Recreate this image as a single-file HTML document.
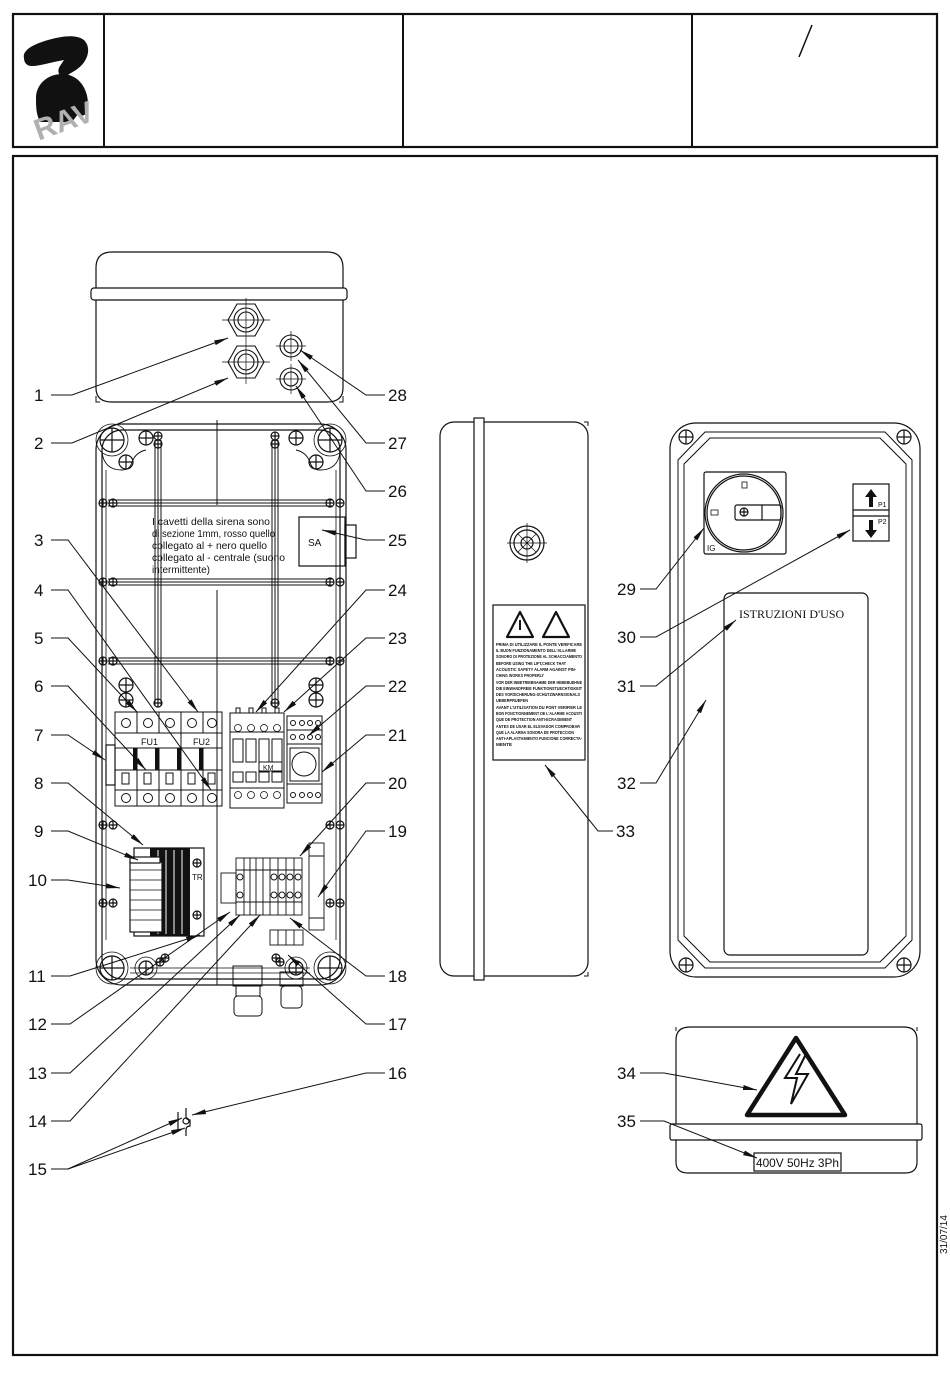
<!DOCTYPE html>
<html><head><meta charset="utf-8"><style>
html,body{margin:0;padding:0;background:#fff}
svg{display:block}
text{font-family:"Liberation Sans",sans-serif;fill:#111}
.s{font-family:"Liberation Sans Narrow","Liberation Sans",sans-serif}
</style></head><body>
<svg width="950" height="1379" viewBox="0 0 950 1379" xmlns="http://www.w3.org/2000/svg" fill="none" stroke="#111" stroke-width="1.2">
<defs>
<marker id="a" viewBox="0 0 14 6" refX="14" refY="3" markerWidth="14" markerHeight="6" markerUnits="userSpaceOnUse" orient="auto"><path d="M0,0.5 L14,3 L0,5.5 Z" fill="#111" stroke="none"/></marker>
<g id="sc"><circle r="7"/><path d="M-7,0H7M0,-7V7"/></g>
<g id="sm"><circle r="4"/><path d="M-4,0H4M0,-4V4"/></g>
<g id="bs"><circle r="12"/><path d="M-12,0H12M0,-12V12"/></g>
</defs>

<!-- header -->
<rect x="13" y="14" width="924" height="133" stroke-width="2.2"/>
<path d="M104,14V147M403,14V147M692,14V147" stroke-width="2"/>
<path d="M812,25L799,57" stroke-width="1.5"/>
<!-- logo -->
<path d="M24,58 C22,50 34,44 48,40 C62,36 76,34 84,40 C92,48 88,62 76,70 L66,76 C60,78 56,72 60,66 L64,60 C52,62 40,66 32,66 C26,66 24,62 24,58Z" fill="#111" stroke="none"/>
<path d="M36,98 C36,84 48,74 62,74 C78,74 88,88 88,104 C88,114 84,118 78,114 L72,122 L40,122 C36,114 36,106 36,98Z" fill="#111" stroke="none"/>
<text x="32" y="132" transform="rotate(-20 60 118)" style="font-size:30px;font-weight:bold;fill:#b0b0b0" stroke="none">RAV</text>

<!-- main frame -->
<rect x="13" y="156" width="924" height="1199" stroke-width="2.2"/>
<text x="947" y="1254" transform="rotate(-90 947 1254)" style="font-size:10px" stroke="none">31/07/14</text>

<!-- top cover -->
<path d="M96,288 V268 Q96,252 112,252 H327 Q343,252 343,268 V288"/>
<rect x="91" y="288" width="256" height="12" rx="3"/>
<path d="M96,300 V388 Q96,402 112,402 H327 Q343,402 343,388 V300"/>
<path d="M96,396V402H100M343,396V402H339" stroke-width="1"/>
<g stroke-width="1.1">
<polygon points="228,320 237,304 255,304 264,320 255,336 237,336"/><circle cx="246" cy="320" r="12"/><circle cx="246" cy="320" r="8"/>
<polygon points="228,362 237,346 255,346 264,362 255,378 237,378"/><circle cx="246" cy="362" r="12"/><circle cx="246" cy="362" r="8"/>
<path d="M222,320H270M246,298V342M222,362H270M246,340V384" stroke-width="0.7"/>
<circle cx="291" cy="346" r="11"/><circle cx="291" cy="346" r="7"/>
<circle cx="291" cy="379" r="11"/><circle cx="291" cy="379" r="7"/>
<path d="M276,346H306M291,331V361M276,379H306M291,364V394" stroke-width="0.7"/>
</g>

<!-- main box -->
<rect x="96" y="424" width="250" height="561" rx="26"/>
<rect x="102" y="430" width="238" height="549" rx="20"/>
<path d="M102,452 Q104,470 122,470 Q130,470 132,462 Q136,452 146,450 M340,452 Q338,470 320,470 Q312,470 310,462 Q306,452 296,450" stroke-width="0.9"/>
<path d="M106,470V940M336,470V940" stroke-width="0.8"/>
<use href="#bs" x="112" y="440"/><use href="#bs" x="330" y="440"/><use href="#bs" x="112" y="968"/><use href="#bs" x="330" y="968"/>
<circle cx="112" cy="440" r="16" stroke-width="0.8"/><circle cx="330" cy="440" r="16" stroke-width="0.8"/><circle cx="112" cy="968" r="16" stroke-width="0.8"/><circle cx="330" cy="968" r="16" stroke-width="0.8"/>
<use href="#sc" x="146" y="438"/><use href="#sc" x="296" y="438"/><use href="#sc" x="126" y="462"/><use href="#sc" x="316" y="462"/>
<use href="#sc" x="126" y="685"/><use href="#sc" x="316" y="685"/><use href="#sc" x="146" y="968"/><use href="#sc" x="296" y="968"/>
<circle cx="146" cy="968" r="11" stroke-width="0.8"/><circle cx="296" cy="968" r="11" stroke-width="0.8"/>
<use href="#sc" x="126" y="700"/><use href="#sc" x="316" y="700"/>
<g stroke-width="1">
<path d="M108,500H332M108,503H332M108,506H332"/>
<path d="M108,579H332M108,582H332M108,585H332"/>
<path d="M108,658H332M108,661H332M108,664H332"/>
<path d="M155,440V705M158,440V705M161,440V705"/>
<path d="M272,440V705M275,440V705M278,440V705"/>
<path d="M217,420V505M217,590V985" stroke-width="1"/>
</g>
<use href="#sm" x="103" y="503"/><use href="#sm" x="113" y="503"/><use href="#sm" x="330" y="503"/><use href="#sm" x="340" y="503"/>
<use href="#sm" x="103" y="582"/><use href="#sm" x="113" y="582"/><use href="#sm" x="330" y="582"/><use href="#sm" x="340" y="582"/>
<use href="#sm" x="103" y="661"/><use href="#sm" x="113" y="661"/><use href="#sm" x="330" y="661"/><use href="#sm" x="340" y="661"/>
<use href="#sm" x="158" y="436"/><use href="#sm" x="158" y="444"/><use href="#sm" x="275" y="436"/><use href="#sm" x="275" y="444"/>
<use href="#sm" x="158" y="703"/><use href="#sm" x="275" y="703"/>
<use href="#sm" x="103" y="825"/><use href="#sm" x="113" y="825"/><use href="#sm" x="330" y="825"/><use href="#sm" x="340" y="825"/>
<use href="#sm" x="103" y="903"/><use href="#sm" x="113" y="903"/><use href="#sm" x="330" y="903"/><use href="#sm" x="340" y="903"/>
<use href="#sm" x="160" y="962"/><use href="#sm" x="280" y="962"/>
<path d="M130,968H310M130,973H310" stroke-width="0.8"/>
<g stroke="none" style="font-size:10.5px" class="s">
<text x="152" y="525" textLength="118" lengthAdjust="spacingAndGlyphs">I cavetti della sirena sono</text>
<text x="152" y="537" textLength="123" lengthAdjust="spacingAndGlyphs">di sezione 1mm, rosso quello</text>
<text x="152" y="549" textLength="115" lengthAdjust="spacingAndGlyphs">collegato al + nero quello</text>
<text x="152" y="561" textLength="133" lengthAdjust="spacingAndGlyphs">collegato al - centrale (suono</text>
<text x="152" y="573" textLength="58" lengthAdjust="spacingAndGlyphs">intermittente)</text>
</g>
<rect x="299" y="517" width="46" height="49"/><rect x="345" y="525" width="11" height="33"/>
<text x="308" y="546" stroke="none" style="font-size:10px">SA</text>

<!-- fuses -->
<g stroke-width="1">
<rect x="115" y="712" width="107" height="94"/>
<path d="M137,712V733M159,712V733M181,712V733M203,712V733M115,733H222M115,748H222M115,790H222M181,733V748"/>
<path d="M137,748V806M159,748V806M181,748V806M203,748V806"/>
<circle cx="126" cy="723" r="4.5"/><circle cx="148" cy="723" r="4.5"/><circle cx="170" cy="723" r="4.5"/><circle cx="192" cy="723" r="4.5"/><circle cx="212" cy="723" r="4.5"/>
<circle cx="126" cy="798" r="4.5"/><circle cx="148" cy="798" r="4.5"/><circle cx="170" cy="798" r="4.5"/><circle cx="192" cy="798" r="4.5"/><circle cx="212" cy="798" r="4.5"/>
<rect x="122" y="773" width="7" height="11"/><rect x="144" y="773" width="7" height="11"/><rect x="166" y="773" width="7" height="11"/><rect x="188" y="773" width="7" height="11"/><rect x="208" y="773" width="7" height="11"/>
<path d="M115,770H222"/>
</g>
<rect x="133" y="748" width="4" height="22" fill="#111" stroke="none"/><rect x="155" y="748" width="4" height="22" fill="#111" stroke="none"/><rect x="199" y="748" width="4" height="22" fill="#111" stroke="none"/><rect x="177" y="748" width="4" height="22" fill="#111" stroke="none"/>
<text x="141" y="745" stroke="none" style="font-size:9px">FU1</text><text x="193" y="745" stroke="none" style="font-size:9px">FU2</text>
<rect x="106" y="745" width="9" height="40"/>

<!-- contactor -->
<g stroke-width="1">
<rect x="230" y="713" width="54" height="95"/>
<path d="M236,713V708H240V713M249,713V708H253V713M262,713V708H266V713M275,713V708H279V713"/>
<path d="M230,732H284M230,788H284"/>
<rect x="233" y="739" width="10" height="23"/><rect x="246" y="739" width="10" height="23"/><rect x="259" y="739" width="10" height="23"/><rect x="272" y="739" width="10" height="23"/>
<rect x="259" y="762" width="23" height="9"/>
<rect x="233" y="772" width="10" height="10"/><rect x="246" y="772" width="10" height="10"/><rect x="259" y="772" width="10" height="10"/><rect x="272" y="772" width="10" height="10"/>
<g stroke-width="0.8"><circle cx="238" cy="728" r="3.5"/><circle cx="251" cy="728" r="3.5"/><circle cx="264" cy="728" r="3.5"/><circle cx="277" cy="728" r="3.5"/>
<circle cx="238" cy="795" r="3.5"/><circle cx="251" cy="795" r="3.5"/><circle cx="264" cy="795" r="3.5"/><circle cx="277" cy="795" r="3.5"/></g>
</g>
<text x="263" y="770" stroke="none" style="font-size:7px">KM</text>
<g stroke-width="1">
<rect x="287" y="716" width="35" height="87"/>
<path d="M287,730H322M287,744H322M287,784H322"/>
<rect x="290" y="748" width="29" height="33"/><circle cx="304" cy="764" r="12"/>
<circle cx="293" cy="723" r="2.5"/><circle cx="302" cy="723" r="2.5"/><circle cx="310" cy="723" r="2.5"/><circle cx="318" cy="723" r="2.5"/>
<circle cx="293" cy="737" r="2.5"/><circle cx="302" cy="737" r="2.5"/><circle cx="310" cy="737" r="2.5"/><circle cx="318" cy="737" r="2.5"/>
<circle cx="293" cy="795" r="2.5"/><circle cx="302" cy="795" r="2.5"/><circle cx="310" cy="795" r="2.5"/><circle cx="318" cy="795" r="2.5"/>
</g>

<!-- transformer -->
<rect x="134" y="848" width="70" height="88"/>
<rect x="150" y="848" width="40" height="88" fill="#111" stroke="none"/>
<path d="M158,850V934M166,850V934M174,850V934M182,850V934" stroke="#fff" stroke-width="1"/>
<rect x="130" y="862" width="32" height="70" fill="#fff"/>
<path d="M130,870H162M130,880H162M130,890H162M130,900H162M130,910H162M130,920H162" stroke-width="0.8"/>
<rect x="130" y="857" width="30" height="6" fill="#fff"/>
<text x="192" y="880" stroke="none" style="font-size:8px">TR</text>
<use href="#sm" x="197" y="863"/><use href="#sm" x="197" y="915"/>
<g stroke-width="0.9">
<rect x="221" y="873" width="15" height="30"/>
<rect x="236" y="858" width="66" height="57"/>
<path d="M244,858V915M250,858V915M256,858V915M263,858V915M270,858V915M278,858V915M286,858V915M294,858V915M236,870H302M236,902H302"/>
<circle cx="240" cy="877" r="3"/><circle cx="274" cy="877" r="3"/><circle cx="282" cy="877" r="3"/><circle cx="290" cy="877" r="3"/><circle cx="298" cy="877" r="3"/>
<circle cx="240" cy="895" r="3"/><circle cx="274" cy="895" r="3"/><circle cx="282" cy="895" r="3"/><circle cx="290" cy="895" r="3"/><circle cx="298" cy="895" r="3"/>
<rect x="309" y="843" width="15" height="87"/><path d="M309,856H324M309,918H324"/>
<rect x="270" y="930" width="33" height="15"/><path d="M278,930V945M286,930V945M294,930V945"/>
</g>
<g stroke-width="1">
<rect x="233" y="966" width="29" height="20"/><rect x="236" y="986" width="24" height="10"/><rect x="234" y="996" width="28" height="20" rx="4"/>
<rect x="280" y="972" width="23" height="14"/><rect x="281" y="986" width="21" height="22" rx="4"/>
</g>
<use href="#sm" x="165" y="958"/><use href="#sm" x="276" y="958"/>

<path d="M178,1112V1130M186,1108V1116Q186,1120 190,1120V1126Q186,1126 186,1130V1136" stroke-width="1.2"/>
<circle cx="186" cy="1121" r="3"/>

<!-- side view -->
<rect x="440" y="422" width="148" height="554" rx="14"/>
<rect x="474" y="418" width="10" height="562" fill="#fff"/>
<path d="M584,422H588V426M584,976H588V972" stroke-width="1"/>
<circle cx="527" cy="543" r="17"/><circle cx="527" cy="543" r="13"/><circle cx="527" cy="543" r="6"/>
<path d="M507,543H547M527,523V563M518,534L536,552M536,534L518,552" stroke-width="0.7"/>
<rect x="493" y="605" width="92" height="155"/>
<path d="M520,612L507,637H533Z M556,612L543,637H569Z" stroke-width="2.2" stroke-linejoin="round"/>
<path d="M520,620V630" stroke-width="2"/>
<g stroke="none" style="font-size:4.6px;font-weight:bold" class="s">
<text x="496" y="646" textLength="86" lengthAdjust="spacingAndGlyphs">PRIMA DI UTILIZZARE IL PONTE VERIFICARE</text>
<text x="496" y="652" textLength="80" lengthAdjust="spacingAndGlyphs">IL BUON FUNZIONAMENTO DELL'ALLARME</text>
<text x="496" y="658" textLength="86" lengthAdjust="spacingAndGlyphs">SONORO DI PROTEZIONE AL SCHIACCIAMENTO</text>
<text x="496" y="665" textLength="70" lengthAdjust="spacingAndGlyphs">BEFORE USING THE LIFT,CHECK THAT</text>
<text x="496" y="671" textLength="80" lengthAdjust="spacingAndGlyphs">ACOUSTIC SAFETY ALARM AGAINST PIN-</text>
<text x="496" y="677" textLength="48" lengthAdjust="spacingAndGlyphs">CHING WORKS PROPERLY</text>
<text x="496" y="684" textLength="86" lengthAdjust="spacingAndGlyphs">VOR DER INBETRIEBNAHME DER HEBEBUEHNE</text>
<text x="496" y="690" textLength="86" lengthAdjust="spacingAndGlyphs">DIE EINWANDFREIE FUNKTIONSTUECHTIGKEIT</text>
<text x="496" y="696" textLength="84" lengthAdjust="spacingAndGlyphs">DES VORSICHERUNG-SCHUTZWARNSIGNALS</text>
<text x="496" y="702" textLength="32" lengthAdjust="spacingAndGlyphs">UEBERPRUEFEN</text>
<text x="496" y="709" textLength="86" lengthAdjust="spacingAndGlyphs">AVANT L'UTILISATION DU PONT VERIFIER LE</text>
<text x="496" y="715" textLength="86" lengthAdjust="spacingAndGlyphs">BON FONCTIONNEMENT DE L'ALARME ACOUSTI</text>
<text x="496" y="721" textLength="76" lengthAdjust="spacingAndGlyphs">QUE DE PROTECTION ANTI-ECRASEMENT</text>
<text x="496" y="728" textLength="84" lengthAdjust="spacingAndGlyphs">ANTES DE USAR EL ELEVADOR COMPROBAR</text>
<text x="496" y="734" textLength="78" lengthAdjust="spacingAndGlyphs">QUE LA ALARMA SONORA DE PROTECCION</text>
<text x="496" y="740" textLength="86" lengthAdjust="spacingAndGlyphs">ANTI-APLASTAMIENTO FUNCIONE CORRECTA-</text>
<text x="496" y="746">MENTE</text>
</g>

<!-- front right -->
<rect x="670" y="423" width="250" height="554" rx="26"/>
<path d="M705,432 H885 L912,460 V940 L885,968 H705 L678,940 V460 Z" stroke-width="1"/>
<path d="M710,438 H880 L906,464 V936 L880,962 H710 L684,936 V464 Z" stroke-width="1"/>
<use href="#sc" x="686" y="437"/><use href="#sc" x="904" y="437"/><use href="#sc" x="686" y="965"/><use href="#sc" x="904" y="965"/>
<rect x="704" y="472" width="82" height="82" rx="2"/>
<circle cx="744" cy="513" r="39"/><circle cx="744" cy="513" r="37"/>
<rect x="742" y="482" width="5" height="6" stroke-width="0.8"/><rect x="711" y="510" width="7" height="5" stroke-width="0.8"/>
<rect x="735" y="505" width="46" height="15" rx="2"/><path d="M762,505V520"/><use href="#sm" x="744" y="512"/>
<text x="707" y="551" stroke="none" style="font-size:8px">IG</text>
<rect x="853" y="484" width="36" height="57"/><path d="M853,510H889M853,516H889"/>
<path d="M871,489L865,497H869V507H873V497H877Z M871,538L865,530H869V520H873V530H877Z" fill="#111" stroke="none"/>
<text x="878" y="507" stroke="none" style="font-size:7px">P1</text><text x="878" y="524" stroke="none" style="font-size:7px">P2</text>
<rect x="724" y="593" width="144" height="362" rx="6"/>
<text x="739" y="618" stroke="none" style="font-family:'Liberation Serif',serif;font-size:12px">ISTRUZIONI D'USO</text>

<!-- bottom right cover -->
<path d="M676,1124 V1040 Q676,1027 690,1027 H904 Q917,1027 917,1040 V1124"/>
<path d="M676,1027V1031M917,1027V1031" stroke-width="1"/>
<rect x="670" y="1124" width="252" height="16" rx="2"/>
<path d="M676,1140 V1162 Q676,1173 688,1173 H905 Q917,1173 917,1162 V1140"/>
<path d="M796,1038 L747,1115 H845 Z" stroke-width="4.5" stroke-linejoin="round"/>
<path d="M800,1054 L785,1078 L797,1078 L791,1104 L808,1074 L796,1074 L806,1054" fill="none" stroke-width="2"/>
<rect x="754" y="1153" width="87" height="18"/>
<text x="756" y="1167" stroke="none" style="font-size:12px" class="s" textLength="83" lengthAdjust="spacingAndGlyphs">400V 50Hz 3Ph</text>

<!-- leaders -->
<g stroke-width="1" marker-end="url(#a)">
<path d="M51,395H72L228,338"/>
<path d="M51,443H72L228,378"/>
<path d="M51,540H68L198,712"/>
<path d="M51,590H68L211,790"/>
<path d="M51,638H68L137,712"/>
<path d="M51,686H68L146,770"/>
<path d="M51,735H68L105,760"/>
<path d="M51,783H68L143,845"/>
<path d="M51,831H68L138,860"/>
<path d="M51,880H68L120,888"/>
<path d="M51,976H70L200,935"/>
<path d="M51,1024H70L230,912"/>
<path d="M51,1073H70L240,915"/>
<path d="M51,1121H70L260,915"/>
<path d="M51,1169H68L182,1118"/>
<path d="M68,1169L185,1128"/>
<path d="M385,1073H366L192,1115"/>
<path d="M385,395H366L300,350"/>
<path d="M385,443H366L298,360"/>
<path d="M385,491H366L296,386"/>
<path d="M385,540H366L322,530"/>
<path d="M385,590H366L256,712"/>
<path d="M385,638H366L284,712"/>
<path d="M385,686H366L308,736"/>
<path d="M385,735H366L322,772"/>
<path d="M385,783H366L300,856"/>
<path d="M385,831H366L318,897"/>
<path d="M385,976H366L290,918"/>
<path d="M385,1024H366L288,955"/>
<path d="M640,589H656L704,528"/>
<path d="M640,637H656L850,530"/>
<path d="M640,686H656L736,620"/>
<path d="M640,783H656L706,700"/>
<path d="M613,831H598L545,765"/>
<path d="M640,1073H664L757,1090"/>
<path d="M640,1121H664L757,1158"/>
</g>
<g stroke="none" style="font-size:17px">
<text x="34" y="401">1</text><text x="34" y="449">2</text><text x="34" y="546">3</text><text x="34" y="596">4</text><text x="34" y="644">5</text><text x="34" y="692">6</text><text x="34" y="741">7</text><text x="34" y="789">8</text><text x="34" y="837">9</text>
<text x="28" y="886">10</text><text x="28" y="982">11</text><text x="28" y="1030">12</text><text x="28" y="1079">13</text><text x="28" y="1127">14</text><text x="28" y="1175">15</text>
<text x="388" y="401">28</text><text x="388" y="449">27</text><text x="388" y="497">26</text><text x="388" y="546">25</text><text x="388" y="596">24</text><text x="388" y="644">23</text><text x="388" y="692">22</text><text x="388" y="741">21</text><text x="388" y="789">20</text><text x="388" y="837">19</text><text x="388" y="982">18</text><text x="388" y="1030">17</text><text x="388" y="1079">16</text>
<text x="617" y="595">29</text><text x="617" y="643">30</text><text x="617" y="692">31</text><text x="617" y="789">32</text><text x="616" y="837">33</text><text x="617" y="1079">34</text><text x="617" y="1127">35</text>
</g>
</svg>
</body></html>
